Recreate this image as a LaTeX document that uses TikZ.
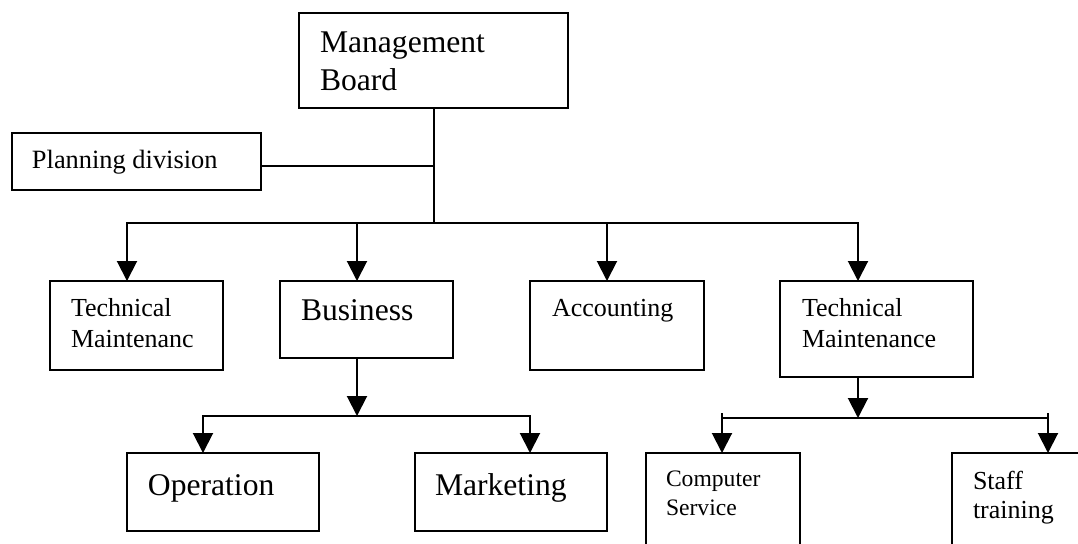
\documentclass[tikz,border=0pt]{standalone}
\usepackage{fontspec}
\setmainfont{Liberation Serif}
\usetikzlibrary{arrows.meta}
\begin{document}
\begin{tikzpicture}[x=0.5pt,y=-0.5pt,
  box/.style={draw, line width=1pt, rectangle, inner sep=0pt, outer sep=0pt, anchor=north west},
  lbl/.style={inner sep=0pt, outer sep=0pt, anchor=base west, align=left},
  conn/.style={line width=1pt, line cap=rect},
  arr/.style={line width=1pt, line cap=rect, -{Triangle[width=10pt,length=10pt]}},
  big/.style={font=\fontsize{15.8}{19.3}\selectfont},
  mid/.style={font=\fontsize{13}{15.6}\selectfont},
]
\useasboundingbox (0,0) rectangle (1078,543);
\clip (0,0) rectangle (1078,543);

% boxes
\node[box, minimum width=134.5pt, minimum height=47.5pt] (mgmt) at (299,13) {};
\node[box, minimum width=124.5pt, minimum height=28.5pt] (plan) at (12,133) {};
\node[box, minimum width=86.5pt, minimum height=44.5pt] (tm1) at (50,281) {};
\node[box, minimum width=86.5pt, minimum height=38.5pt] (bus) at (280,281) {};
\node[box, minimum width=87pt, minimum height=44.5pt] (acc) at (530,281) {};
\node[box, minimum width=96.5pt, minimum height=48pt] (tm2) at (780,281) {};
\node[box, minimum width=96pt, minimum height=39pt] (op) at (127,453) {};
\node[box, minimum width=96pt, minimum height=39pt] (mkt) at (415,453) {};
\node[box, minimum width=77pt, minimum height=60pt] (cs) at (646,453) {};
\node[box, minimum width=80pt, minimum height=60pt] (st) at (952,453) {};

% labels
\node[lbl, big, text width=160pt] (tmgmt) at (320,52.3) {Management\\Board};
\node[lbl, font=\fontsize{13.2}{15.8}\selectfont] (tplan) at (32,168.3) {Planning division};
\node[lbl, mid, text width=100pt] (ttm1) at (71,316) {Technical\\Maintenanc};
\node[lbl, big] (tbus) at (301,320.7) {Business};
\node[lbl, mid] (tacc) at (552,316.7) {Accounting};
\node[lbl, mid, text width=100pt] (ttm2) at (802,316) {Technical\\Maintenance};
\node[lbl, big] (top) at (148,495) {Operation};
\node[lbl, big] (tmkt) at (435,495) {Marketing};
\node[lbl, font=\fontsize{11.8}{14.2}\selectfont, text width=80pt] (tcs) at (666,486.7) {Computer\\Service};
\node[lbl, font=\fontsize{13}{14.6}\selectfont, text width=80pt] (tst) at (973,489) {Staff\\training};

% top level connectors
\coordinate (hub) at (434,223);
\coordinate (pj) at (434,166);
\draw[conn] (hub |- mgmt.south) -- (hub);
\draw[conn] (plan.east |- pj) -- (pj);

\coordinate (b1) at (127,223);
\coordinate (b2) at (357,223);
\coordinate (b3) at (607,223);
\coordinate (b4) at (858,223);
\draw[conn] (b1) -- (b4);
\draw[arr] (b1) -- (b1 |- tm1.north);
\draw[arr] (b2) -- (b2 |- bus.north);
\draw[arr] (b3) -- (b3 |- acc.north);
\draw[arr] (b4) -- (b4 |- tm2.north);

% business branch
\coordinate (bj) at (357,416);
\coordinate (o1) at (203,416);
\coordinate (m1) at (530,416);
\draw[arr] (bj |- bus.south) -- (bj);
\draw[conn] (o1) -- (m1);
\draw[arr] (o1) -- (o1 |- op.north);
\draw[arr] (m1) -- (m1 |- mkt.north);

% technical maintenance branch
\coordinate (tj) at (858,418);
\coordinate (c1) at (722,418);
\coordinate (s1) at (1048,418);
\coordinate (c1t) at (722,414);
\coordinate (s1t) at (1048,414);
\draw[arr] (tj |- tm2.south) -- (tj);
\draw[conn] (c1) -- (s1);
\draw[arr] (c1t) -- (c1t |- cs.north);
\draw[arr] (s1t) -- (s1t |- st.north);
\end{tikzpicture}
\end{document}
